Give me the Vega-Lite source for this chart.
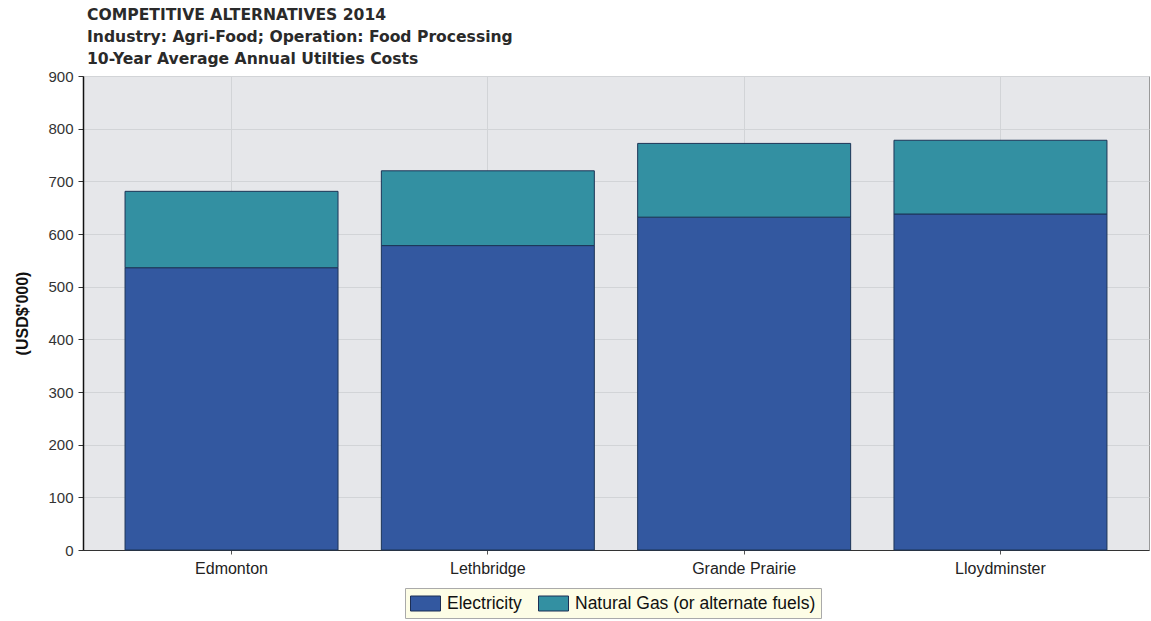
{
  "$schema": "https://vega.github.io/schema/vega-lite/v6.json",
  "autosize": "none",
  "width": 1066,
  "height": 474,
  "padding": {"left": 83, "top": 76, "right": 2, "bottom": 71},
  "background": "white",
  "title": {
    "text": ["COMPETITIVE ALTERNATIVES 2014", "Industry: Agri-Food; Operation: Food Processing", "10-Year Average Annual Utilties Costs"],
    "anchor": "start",
    "frame": "group",
    "orient": "top",
    "font": "DejaVu Sans",
    "fontSize": 15.6,
    "fontWeight": "bold",
    "color": "#2a2a2a",
    "lineHeight": 22,
    "offset": 1,
    "dx": 4
  },
  "data": {
    "values": [
      {"city": "Edmonton", "fuel": "Electricity", "value": 536},
      {"city": "Edmonton", "fuel": "Natural Gas (or alternate fuels)", "value": 145},
      {"city": "Lethbridge", "fuel": "Electricity", "value": 578},
      {"city": "Lethbridge", "fuel": "Natural Gas (or alternate fuels)", "value": 142},
      {"city": "Grande Prairie", "fuel": "Electricity", "value": 632},
      {"city": "Grande Prairie", "fuel": "Natural Gas (or alternate fuels)", "value": 140},
      {"city": "Lloydminster", "fuel": "Electricity", "value": 638},
      {"city": "Lloydminster", "fuel": "Natural Gas (or alternate fuels)", "value": 140}
    ]
  },
  "mark": {"type": "bar", "stroke": "#1d3557", "strokeWidth": 1},
  "encoding": {
    "x": {
      "field": "city",
      "type": "nominal",
      "sort": null,
      "scale": {"paddingInner": 0.169, "paddingOuter": 0.164},
      "axis": {
        "title": null,
        "labelAngle": 0,
        "labelFont": "Liberation Sans",
        "labelFontSize": 16,
        "labelColor": "#222222",
        "labelPadding": 6,
        "tickSize": 4,
        "tickColor": "#555555",
        "domainColor": "#333333",
        "grid": true,
        "gridColor": "#d2d4d7"
      }
    },
    "y": {
      "field": "value",
      "type": "quantitative",
      "stack": "zero",
      "scale": {"domain": [0, 900], "nice": false},
      "axis": {
        "title": "(USD$'000)",
        "titleFont": "Liberation Sans",
        "titleFontSize": 16,
        "titleFontWeight": "bold",
        "titleColor": "#111111",
        "titlePadding": 17,
        "values": [0, 100, 200, 300, 400, 500, 600, 700, 800, 900],
        "labelFont": "Liberation Sans",
        "labelFontSize": 15,
        "labelColor": "#333333",
        "labelPadding": 5,
        "tickSize": 5,
        "tickColor": "#333333",
        "domainColor": "#111111",
        "domainWidth": 1.5,
        "grid": true,
        "gridColor": "#d2d4d7"
      }
    },
    "color": {
      "field": "fuel",
      "type": "nominal",
      "scale": {"domain": ["Electricity", "Natural Gas (or alternate fuels)"], "range": ["#3358a0", "#3390a2"]},
      "legend": {
        "title": null,
        "orient": "none",
        "legendX": 322,
        "legendY": 512,
        "direction": "horizontal",
        "fillColor": "#fdfde6",
        "strokeColor": "#aaaaaa",
        "padding": 5,
        "labelFont": "Liberation Sans",
        "labelFontSize": 17.5,
        "labelColor": "#111111",
        "labelLimit": 400,
        "labelOffset": 11,
        "symbolOffset": 5,
        "symbolType": "M-1.5,-0.75H1.5V0.75H-1.5Z",
        "symbolSize": 400,
        "symbolStrokeColor": "#1d2f55",
        "symbolStrokeWidth": 1,
        "symbolOpacity": 1,
        "columnPadding": 14
      }
    },
    "order": {"field": "fuel", "sort": "ascending"}
  },
  "config": {
    "view": {"fill": "#e6e7ea", "stroke": "#999999", "strokeWidth": 1}
  }
}
